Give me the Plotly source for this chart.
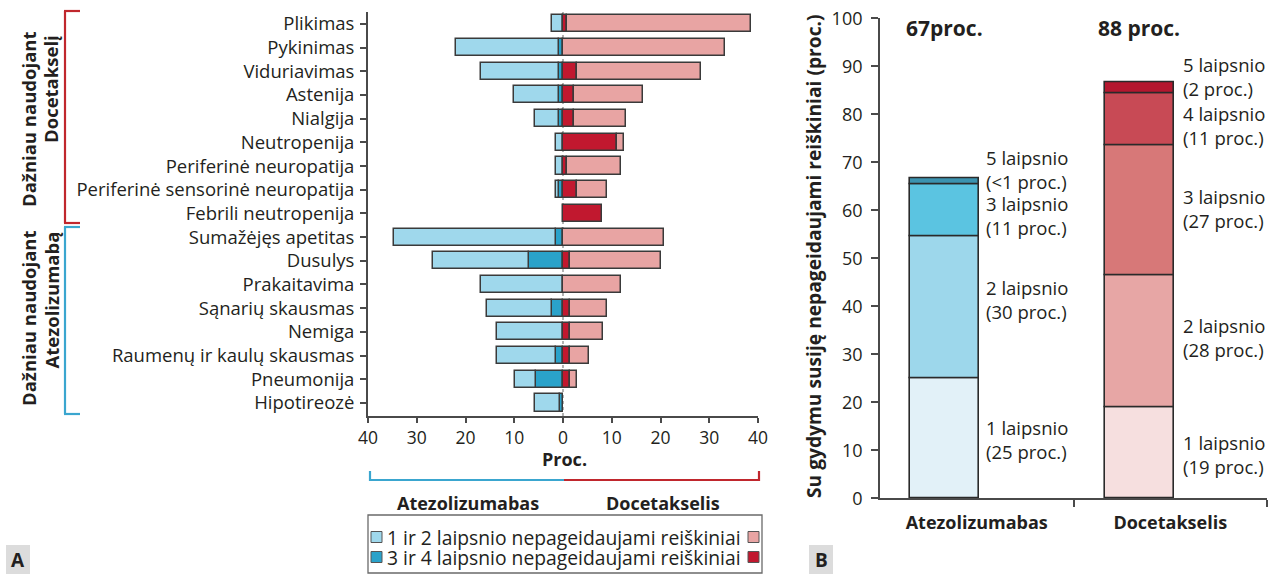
import numpy as np
import plotly.graph_objects as go

W, H = 1279, 574
FONT = "Open Sans"
TXT = "#231f20"
EDGE = "#3a3a3a"

# ---------------- data: panel A ----------------
categories = ["Plikimas", "Pykinimas", "Viduriavimas", "Astenija", "Nialgija", "Neutropenija",
              "Periferinė neuropatija", "Periferinė sensorinė neuropatija", "Febrili neutropenija",
              "Sumažėjęs apetitas", "Dusulys", "Prakaitavima", "Sąnarių skausmas", "Nemiga",
              "Raumenų ir kaulų skausmas", "Pneumonija", "Hipotireozė"]
atezo_g12 = [2.2, 21.1, 16.1, 9.3, 5.0, 1.4, 1.4, 0.6, 0, 33.2, 19.6, 16.9, 13.3, 13.6, 12.2, 4.2, 5.1]
atezo_g34 = [0, 0.8, 0.8, 0.8, 0.8, 0, 0, 0.8, 0, 1.4, 7.0, 0, 2.2, 0, 1.4, 5.6, 0.7]
doce_g12 = [37.8, 33.3, 25.4, 14.2, 10.8, 1.5, 11.0, 6.1, 0, 20.8, 18.6, 11.8, 7.5, 6.8, 3.8, 1.4, 0]
doce_g34 = [0.8, 0, 2.9, 2.2, 2.2, 11.1, 0.8, 2.9, 8.1, 0, 1.5, 0, 1.5, 1.5, 1.5, 1.5, 0]
x_ticks = [-40, -30, -20, -10, 0, 10, 20, 30, 40]

# ---------------- data: panel B ----------------
drugs = ["Atezolizumabas", "Docetakselis"]
atezo_grades = [25, 29.5, 11, 1.2]
atezo_grade_labels = ["1 laipsnio<br>(25 proc.)", "2 laipsnio<br>(30 proc.)",
                      "3 laipsnio<br>(11 proc.)", "5 laipsnio<br>(<1 proc.)"]
doce_grades = [19, 27.5, 27, 10.8, 2.4]
doce_grade_labels = ["1 laipsnio<br>(19 proc.)", "2 laipsnio<br>(28 proc.)", "3 laipsnio<br>(27 proc.)",
                     "4 laipsnio<br>(11 proc.)", "5 laipsnio<br>(2 proc.)"]
totals_text = ["67proc.", "88 proc."]

# ---------------- styles ----------------
ATZ_LIGHT, ATZ_DARK = "#9fd8ec", "#2aa2ca"
DOC_LIGHT, DOC_DARK = "#e8a4a3", "#c1182f"
atezo_colors = ["#e2f1f8", "#9dd7eb", "#5bc4e1", "#3b93b0"]
doce_colors = ["#f6dfdf", "#e7a6a5", "#d77878", "#c84a55", "#b5172f"]
atezo_label_y = [12.3, 41.4, 59.0, 68.4]
doce_label_y = [9.1, 33.5, 60.3, 77.6, 87.8]


def px(x):
    return x / W


def py(y):
    return 1 - y / H


def nz(vals, sign=1):
    return [sign * v if v else None for v in vals]


fig = go.Figure()
yidx = list(range(len(categories)))
line = dict(color=EDGE, width=1.5)
bw = 0.72

# Atezolizumabas (left, negative)
fig.add_trace(go.Bar(y=yidx, x=nz(atezo_g34, -1), base=0, orientation="h", width=bw,
                     marker=dict(color=ATZ_DARK, line=line), xaxis="x", yaxis="y", showlegend=False))
fig.add_trace(go.Bar(y=yidx, x=nz(atezo_g12, -1), base=[-v for v in atezo_g34], orientation="h", width=bw,
                     marker=dict(color=ATZ_LIGHT, line=line), xaxis="x", yaxis="y", showlegend=False))
# Docetakselis (right, positive)
fig.add_trace(go.Bar(y=yidx, x=nz(doce_g34), base=0, orientation="h", width=bw,
                     marker=dict(color=DOC_DARK, line=line), xaxis="x", yaxis="y", showlegend=False))
fig.add_trace(go.Bar(y=yidx, x=nz(doce_g12), base=list(doce_g34), orientation="h", width=bw,
                     marker=dict(color=DOC_LIGHT, line=line), xaxis="x", yaxis="y", showlegend=False))

# Panel B stacked bars
bar_x = [0.335, 1.34]
bar_w = 0.357
for xi, grades, cols in [(bar_x[0], atezo_grades, atezo_colors), (bar_x[1], doce_grades, doce_colors)]:
    bases = np.concatenate([[0], np.cumsum(grades)[:-1]])
    for g, b, c in zip(grades, bases, cols):
        fig.add_trace(go.Bar(x=[xi], y=[g], base=[float(b)], width=bar_w,
                             marker=dict(color=c, line=dict(color="#2a2a2a", width=1.6)),
                             xaxis="x2", yaxis="y2", showlegend=False))

ann = []


def pann(x, y, text, size, xanchor="center", yanchor="middle", angle=0, bold=False):
    ann.append(dict(x=px(x), y=py(y), xref="paper", yref="paper", text=("<b>%s</b>" % text) if bold else text,
                    showarrow=False, xanchor=xanchor, yanchor=yanchor, textangle=angle,
                    font=dict(size=size, color=TXT, family=FONT)))


for lab, yv in zip(atezo_grade_labels, atezo_label_y):
    ann.append(dict(x=0.54, y=yv, xref="x2", yref="y2", text=lab, showarrow=False, xanchor="left",
                    yanchor="middle", align="left", font=dict(size=18.5, color=TXT, family=FONT)))
for lab, yv in zip(doce_grade_labels, doce_label_y):
    ann.append(dict(x=1.555, y=yv, xref="x2", yref="y2", text=lab, showarrow=False, xanchor="left",
                    yanchor="middle", align="left", font=dict(size=18.5, color=TXT, family=FONT)))
for xi, t in zip(bar_x, totals_text):
    ann.append(dict(x=xi, y=98, xref="x2", yref="y2", text="<b>%s</b>" % t, showarrow=False,
                    xanchor="center", yanchor="middle", font=dict(size=21, color=TXT, family=FONT)))

# Y title panel B
pann(813, 257, "Su gydymu susiję nepageidaujami reiškiniai (proc.)", 19.2, angle=-90, bold=True)

# Group labels (rotated) panel A
pann(28, 29, "Dažniau naudojant", 18.5, yanchor="top", angle=-90, bold=True)
pann(51, 33, "Docetakselį", 18.5, yanchor="top", angle=-90, bold=True)
pann(28, 228, "Dažniau naudojant", 18.5, yanchor="top", angle=-90, bold=True)
pann(51, 229, "Atezolizumabą", 18.5, yanchor="top", angle=-90, bold=True)

# Bottom labels panel A
pann(564, 459, "Proc.", 18, bold=True)
pann(468, 503, "Atezolizumabas", 18, bold=True)
pann(663, 503, "Docetakselis", 18, bold=True)
# Legend texts
pann(385, 537, "1 ir 2 laipsnio nepageidaujami reiškiniai", 19.3, xanchor="left")
pann(385, 557, "3 ir 4 laipsnio nepageidaujami reiškiniai", 19.3, xanchor="left")
# Panel letters
pann(18, 560, "A", 19, bold=True)
pann(821, 560, "B", 19, bold=True)

shapes = []


def pline(x0, y0, x1, y1, color, width=2.2):
    shapes.append(dict(type="line", xref="paper", yref="paper", x0=px(x0), y0=py(y0), x1=px(x1), y1=py(y1),
                       line=dict(color=color, width=width)))


RED, BLUE = "#c0272d", "#3aa6cf"
# Left brackets
pline(65, 11, 65, 223, RED)
pline(64, 11, 80, 11, RED)
pline(64, 223, 80, 223, RED)
pline(65, 227, 65, 414, BLUE)
pline(64, 227, 80, 227, BLUE)
pline(64, 414, 80, 414, BLUE)
# Bottom brackets
pline(370, 480, 564, 480, BLUE)
pline(370, 471, 370, 481, BLUE)
pline(564, 480, 759, 480, RED)
pline(759, 471, 759, 481, RED)
# Zero dotted line
shapes.append(dict(type="line", xref="x", yref="y domain", x0=0, x1=0, y0=0, y1=1, layer="below",
                   line=dict(color="#8a8a8a", width=1.3, dash="dot")))
# Legend box
shapes.append(dict(type="rect", xref="paper", yref="paper", x0=px(368), y0=py(573), x1=px(762), y1=py(515),
                   line=dict(color="#6a6a6a", width=1.3), fillcolor="rgba(0,0,0,0)"))
for yy, cl, cr in [(537, ATZ_LIGHT, DOC_LIGHT), (557, ATZ_DARK, DOC_DARK)]:
    for xx, c in [(371, cl), (748, cr)]:
        shapes.append(dict(type="rect", xref="paper", yref="paper", x0=px(xx), x1=px(xx + 11),
                           y0=py(yy + 5.5), y1=py(yy - 5.5), fillcolor=c, line=dict(color="#555", width=1)))
# Panel letter boxes
for x0 in [6, 809]:
    shapes.append(dict(type="rect", xref="paper", yref="paper", x0=px(x0), x1=px(x0 + 24), y0=py(574),
                       y1=py(545), fillcolor="#dcdcdc", line=dict(width=0), layer="below"))

axcol = "#4a4a4a"
fig.update_layout(
    width=W, height=H, margin=dict(l=0, r=0, t=0, b=0, autoexpand=False),
    paper_bgcolor="white", plot_bgcolor="white", barmode="overlay", bargap=0,
    font=dict(family=FONT, color=TXT),
    xaxis=dict(domain=[px(368), px(758)], range=[-40, 40], tickvals=x_ticks, automargin=False,
               ticktext=[str(abs(v)) for v in x_ticks], showgrid=False, zeroline=False,
               showline=True, linecolor=axcol, linewidth=1.8, ticks="outside", ticklen=5,
               tickcolor=axcol, tickwidth=1.5, tickfont=dict(size=17.5, color=TXT, family=FONT),
               ticklabelstandoff=0, anchor="y", fixedrange=True),
    yaxis=dict(domain=[py(416), py(12)], range=[16.55, -0.5], tickvals=yidx, ticktext=categories,
               automargin=False, showgrid=False, zeroline=False, showline=True, linecolor=axcol,
               linewidth=1.8, ticks="outside", ticklen=6, tickcolor=axcol, tickwidth=1.5,
               tickfont=dict(size=18.5, color=TXT, family=FONT), ticklabelstandoff=2, anchor="x"),
    xaxis2=dict(domain=[px(880), px(1267)], range=[0, 2], tickvals=[0.5, 1.5], automargin=False,
                ticktext=["<b>%s</b>" % d for d in drugs], showgrid=False, zeroline=False,
                showline=True, linecolor=axcol, linewidth=1.8, ticks="",
                minor=dict(tickvals=[1, 2], ticks="outside", ticklen=7, tickcolor=axcol, tickwidth=1.5),
                tickfont=dict(size=18, color=TXT, family=FONT), ticklabelstandoff=7, anchor="y2"),
    yaxis2=dict(domain=[py(498.3), py(18.3)], range=[0, 100], tickvals=list(range(0, 101, 10)),
                automargin=False, showgrid=False, zeroline=False, showline=True, linecolor=axcol,
                linewidth=1.8, ticks="outside", ticklen=7, tickcolor=axcol, tickwidth=1.5,
                tickfont=dict(size=18, color=TXT, family=FONT), ticklabelstandoff=5, anchor="x2"),
    annotations=ann, shapes=shapes,
)

fig.write_html("out.html", config={"displayModeBar": False},
               post_script="document.body.style.margin='0px';")
